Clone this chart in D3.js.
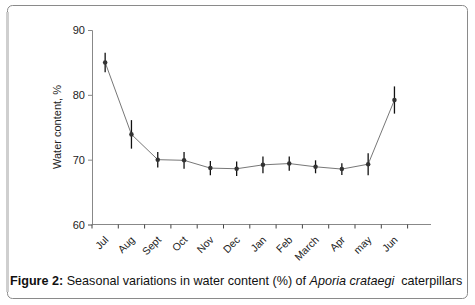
<!DOCTYPE html>
<html><head><meta charset="utf-8">
<script src="https://cdn.jsdelivr.net/npm/d3@7"></script>
<style>body{margin:0;background:#fff;}svg{display:block;font-family:"Liberation Sans",Arial,sans-serif;}</style>
</head><body><svg id="c" width="475" height="305"></svg>
<script>
const months = ["Jul","Aug","Sept","Oct","Nov","Dec","Jan","Feb","March","Apr","may","Jun"];
const water = [85.0, 73.9, 70.0, 69.9, 68.7, 68.6, 69.2, 69.4, 68.9, 68.55, 69.3, 79.2];
const errs = [1.5, 2.2, 1.2, 1.3, 1.1, 1.1, 1.3, 1.1, 1.0, 0.9, 1.7, 2.1];
const yTicks = [60, 70, 80, 90];

const svg = d3.select("#c");
// frame
svg.append("rect").attr("x",7.5).attr("y",5.5).attr("width",460).attr("height",293)
  .attr("rx",5).attr("fill","#fff").attr("stroke","#8a8a8a").attr("stroke-width",1);
svg.append("line").attr("x1",7.5).attr("x2",7.5).attr("y1",12).attr("y2",292)
  .attr("stroke","#cfcfcf").attr("stroke-width",3);

const x0 = 92, bw = 26.3;
const x = d3.scaleBand().domain(months).range([x0, x0 + bw*months.length]);
const y = d3.scaleLinear().domain([60, 90]).range([224.5, 30]);

const g = svg.append("g");
// y axis
const yAx = g.append("g").attr("transform",`translate(${x0},0)`)
  .call(d3.axisLeft(y).tickValues(yTicks).tickSize(4).tickPadding(3));
yAx.select(".domain").attr("stroke","#888");
yAx.selectAll(".tick line").attr("stroke","#888");
yAx.selectAll("text").attr("font-size",11).attr("fill","#222");

// x axis
const xAx = g.append("g").attr("transform",`translate(0,${y(60)})`);
xAx.append("line").attr("x1",x0).attr("x2",431).attr("stroke","#888");
const tickPos = d3.range(months.length+1).map(i => x0 + i*bw);
xAx.selectAll("line.t").data(tickPos).join("line").attr("class","t")
  .attr("x1",d=>d).attr("x2",d=>d).attr("y1",0).attr("y2",4).attr("stroke","#444");
xAx.selectAll("text").data(months).join("text")
  .attr("transform", d => `translate(${x(d)+x.bandwidth()/2+4},${16}) rotate(-45)`)
  .attr("text-anchor","end").attr("font-size",10.5).attr("fill","#222").text(d=>d);

// y label
svg.append("text").attr("transform","translate(61,127) rotate(-90)")
  .attr("text-anchor","middle").attr("font-size",11).attr("fill","#222").text("Water content, %");

const cx = d => x(d) + x.bandwidth()/2;
// line
g.append("path").datum(months)
  .attr("d", d3.line().x(d=>cx(d)).y((d,i)=>y(water[i])))
  .attr("fill","none").attr("stroke","#777").attr("stroke-width",1);
// error bars
g.selectAll("line.e").data(months).join("line").attr("class","e")
  .attr("x1",cx).attr("x2",cx)
  .attr("y1",(d,i)=>y(water[i]+errs[i])).attr("y2",(d,i)=>y(water[i]-errs[i]))
  .attr("stroke","#111").attr("stroke-width",1.3);
// markers
g.selectAll("path.m").data(months).join("path").attr("class","m")
  .attr("transform",(d,i)=>`translate(${cx(d)},${y(water[i])})`)
  .attr("d", d3.symbol(d3.symbolCircle, 16)).attr("fill","#333");

// caption
const cap = svg.append("text").attr("x",10).attr("y",285).attr("font-size",12.6).attr("fill","#111")
  .style("white-space","pre");
cap.append("tspan").attr("font-weight","bold").text("Figure 2:");
cap.append("tspan").text(" Seasonal variations in water content (%) of ");
cap.append("tspan").attr("font-style","italic").text("Aporia crataegi");
cap.append("tspan").text("  caterpillars");
</script></body></html>
